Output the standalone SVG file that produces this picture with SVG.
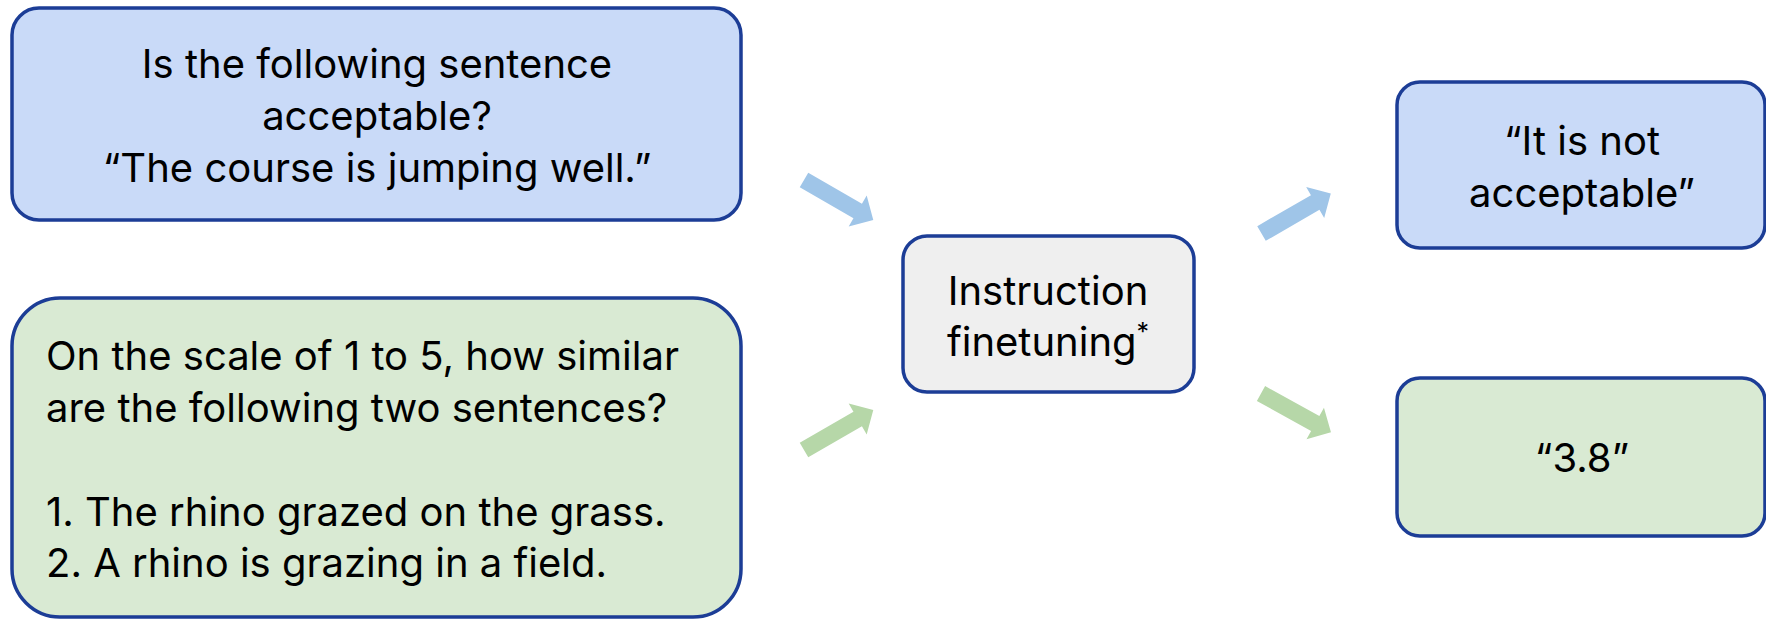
<svg xmlns="http://www.w3.org/2000/svg" width="1766" height="621" viewBox="0 0 1766 621">
  <style>
    .box { stroke: #1c3d96; stroke-width: 3.5; }
    .blue { fill: #c9daf8; }
    .green { fill: #d9ead3; }
    .grey { fill: #efefef; }
    .t { font-family: Inter, Roboto, "Liberation Sans", sans-serif; font-size: 40px; fill: #000; }
    .c { text-anchor: middle; }
    .arrow-blue { fill: #9fc5e8; }
    .arrow-green { fill: #b6d7a8; }
  </style>
  <defs>
    <!-- block arrow pointing along +x, tail centred at the origin -->
    <polygon id="block-arrow" points="0,-8.5 62,-8.5 62,-18 80,0 62,18 62,8.5 0,8.5"/>
  </defs>
  <rect width="1766" height="621" fill="#fff"/>

  <g id="node-acceptability-prompt">
    <rect class="box blue" x="12" y="8" width="729" height="212" rx="27"/>
    <text class="t c" x="377" y="77.5">Is the following sentence</text>
    <text class="t c" x="377" y="129.5">acceptable?</text>
    <text class="t c" x="377" y="181.5">“The course is jumping well.”</text>
  </g>

  <g id="node-similarity-prompt">
    <rect class="box green" x="12" y="298" width="729" height="319" rx="48"/>
    <text class="t" x="46" y="370">On the scale of 1 to 5, how similar</text>
    <text class="t" x="46" y="422">are the following two sentences?</text>
    <text class="t" x="46" y="526">1. The rhino grazed on the grass.</text>
    <text class="t" x="46" y="577">2. A rhino is grazing in a field.</text>
  </g>

  <g id="node-instruction-finetuning">
    <rect class="box grey" x="903" y="236" width="291" height="156" rx="24"/>
    <text class="t c" x="1048" y="305">Instruction</text>
    <text class="t c" x="1048" y="356">finetuning<tspan font-size="25" dy="-15">*</tspan></text>
  </g>

  <g id="node-acceptability-answer">
    <rect class="box blue" x="1397" y="82" width="368" height="166" rx="23"/>
    <text class="t c" x="1582" y="155">“It is not</text>
    <text class="t c" x="1582" y="207">acceptable”</text>
  </g>

  <g id="node-similarity-answer">
    <rect class="box green" x="1397" y="378" width="368" height="158" rx="23"/>
    <text class="t c" x="1582" y="472">“3.8”</text>
  </g>

  <g id="connectors">
    <use href="#block-arrow" class="arrow-blue" transform="translate(804 180) rotate(30)"/>
    <use href="#block-arrow" class="arrow-green" transform="translate(804 450) rotate(-30)"/>
    <use href="#block-arrow" class="arrow-blue" transform="translate(1261.5 233.5) rotate(-30)"/>
    <use href="#block-arrow" class="arrow-green" transform="translate(1261 393.5) rotate(29)"/>
  </g>
</svg>
